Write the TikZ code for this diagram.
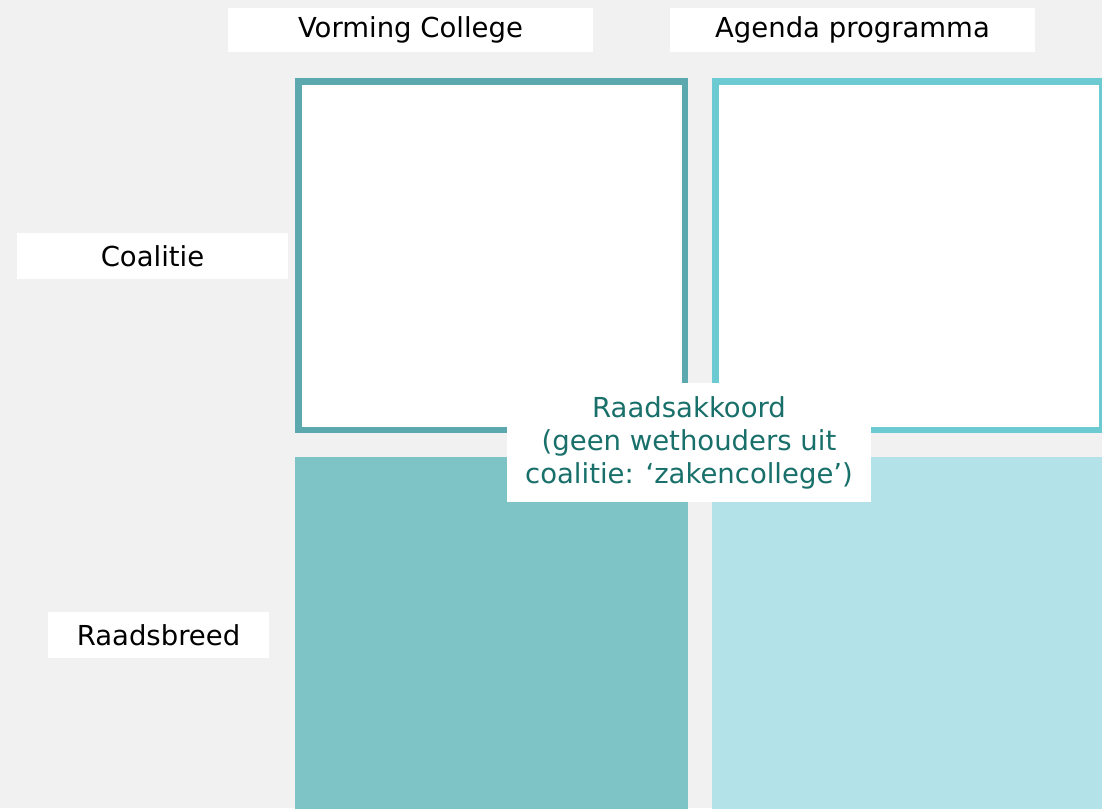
\documentclass[tikz,border=0pt]{standalone}
\usepackage{fontspec}
\setmainfont{DejaVu Sans}
\definecolor{bgGrey}{HTML}{F1F1F1}
\definecolor{tealDark}{HTML}{5BA8AF}
\definecolor{tealLight}{HTML}{6CCBD2}
\definecolor{fillDark}{HTML}{7EC3C6}
\definecolor{fillLight}{HTML}{B4E2E9}
\definecolor{textTeal}{HTML}{19706A}
\begin{document}
\begin{tikzpicture}[
    x=1pt, y=-1pt,
    font=\fontsize{27.5}{33}\selectfont,
    header/.style={rectangle, fill=white, minimum height=44pt, inner sep=0pt},
    quadrant/.style={rectangle, fill=white, line width=6.5pt,
        minimum width=386.5pt, minimum height=348.5pt},
    filled/.style={rectangle, minimum width=393pt, minimum height=352pt},
    note/.style={rectangle, fill=white, text=textTeal, align=center,
        minimum width=364pt, minimum height=119pt, inner sep=0pt}
]
\fill[bgGrey] (0,0) rectangle (1102,808);
\clip (0,0) rectangle (1102,808);
% column and row headers
\node (Vorming) [header, minimum width=365pt] at (410.5,30) {Vorming College};
\node (Agenda) [header, minimum width=365pt] at (852.5,30) {Agenda programma};
\node (Coalitie) [header, minimum width=271pt, minimum height=46pt] at (152.5,256) {Coalitie};
\node (Raadsbreed) [header, minimum width=221pt, minimum height=46pt] at (158.5,635) {Raadsbreed};
% the four fields
\node (CoalitieCollege) [quadrant, draw=tealDark] at (491.5,255.5) {};
\node (CoalitieAgenda) [quadrant, draw=tealLight] at (908.5,255.5) {};
\node (RaadCollege) [filled, fill=fillDark] at (491.5,633) {};
\node (RaadAgenda) [filled, fill=fillLight] at (908.5,633) {};
% label over the middle
\node (Raadsakkoord) [note] at (689,442.5) {Raadsakkoord\\(geen wethouders uit\\coalitie: ‘zakencollege’)};
\end{tikzpicture}
\end{document}
